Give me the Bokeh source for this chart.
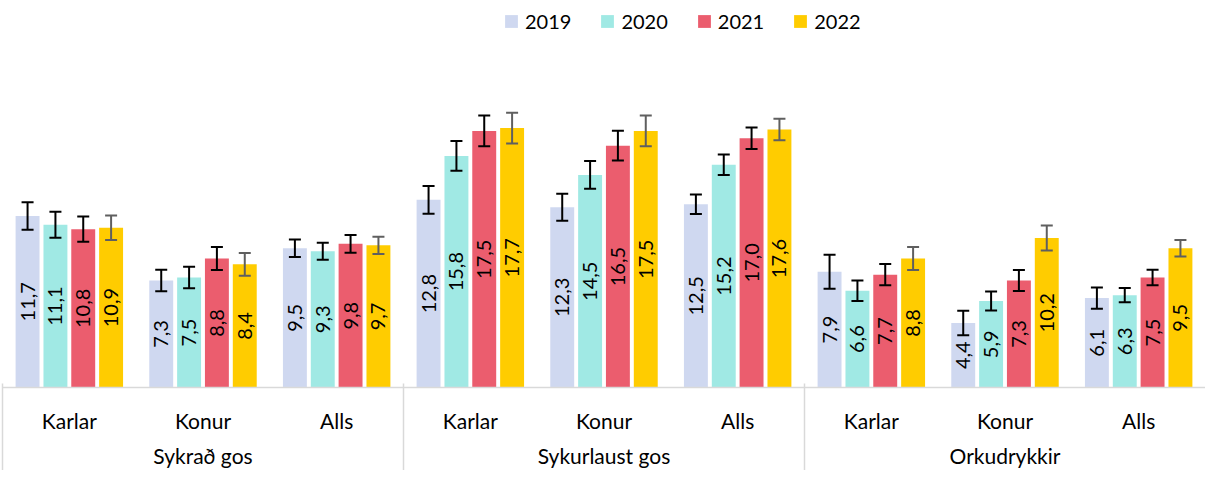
from math import pi
from bokeh.plotting import figure
from bokeh.models import (ColumnDataSource, Range1d, Whisker, TeeHead,
                          Legend, LegendItem, LinearAxis, FixedTicker)
from bokeh.transform import dodge
from bokeh.core.properties import value
from bokeh.embed import file_html
from bokeh.resources import INLINE

drinks = ["Sykrað gos", "Sykurlaust gos", "Orkudrykkir"]
groups = ["Karlar", "Konur", "Alls"]
years = ["2019", "2020", "2021", "2022"]

v2019 = [11.7, 7.3, 9.5, 12.8, 12.3, 12.5, 7.9, 4.4, 6.1]
v2020 = [11.1, 7.5, 9.3, 15.8, 14.5, 15.2, 6.6, 5.9, 6.3]
v2021 = [10.8, 8.8, 9.8, 17.5, 16.5, 17.0, 7.7, 7.3, 7.5]
v2022 = [10.9, 8.4, 9.7, 17.7, 17.5, 17.6, 8.8, 10.2, 9.5]

e2019 = [0.94, 0.73, 0.60, 0.95, 0.92, 0.66, 1.16, 0.84, 0.72]
e2020 = [0.89, 0.73, 0.58, 1.02, 0.95, 0.70, 0.70, 0.65, 0.48]
e2021 = [0.86, 0.79, 0.60, 1.05, 1.01, 0.73, 0.73, 0.72, 0.53]
e2022 = [0.84, 0.78, 0.59, 1.05, 1.05, 0.73, 0.78, 0.85, 0.57]

values = [v2019, v2020, v2021, v2022]
errors = [e2019, e2020, e2021, e2022]
colors = ["#CFD8F0", "#A0E9E4", "#EB5D6E", "#FFCC00"]
err_colors = ["#000000", "#000000", "#000000", "#5F5F5F"]
offsets = [-0.3125, -0.104, 0.104, 0.3125]
BAR_W = 0.179
FONT = "Lato"

# category slots: (drink, group) pairs, one unit wide each
factors = [(d, g) for d in drinks for g in groups]
n = len(factors)
slot = [i + 0.5 for i in range(n)]

p = figure(x_range=Range1d(0, n), y_range=(0, 26.4), width=1205, height=470,
           output_backend="svg", toolbar_location=None, y_axis_location=None,
           x_axis_location=None,
           min_border_left=2, min_border_right=0, min_border_top=0,
           min_border_bottom=0)
p.outline_line_color = None
p.xgrid.visible = False
p.ygrid.visible = False

items = []
for yr, vals, errs, col, ecol, off in zip(years, values, errors, colors, err_colors, offsets):
    src = ColumnDataSource(dict(
        x=slot,
        top=vals,
        mid=[v / 2 for v in vals],
        upper=[v + e for v, e in zip(vals, errs)],
        lower=[v - e for v, e in zip(vals, errs)],
        label=[f"{v:.1f}".replace(".", ",") for v in vals],
    ))
    xd = dodge("x", off)
    r = p.vbar(x=xd, top="top", width=BAR_W, source=src, fill_color=col, line_color=None)
    items.append(LegendItem(label=yr, renderers=[r]))
    p.text(x=xd, y="mid", text="label", source=src, angle=pi / 2,
           text_align="center", text_baseline="middle",
           text_font=value(FONT), text_font_size="20px", text_color="black")
    w = Whisker(source=src, base=dodge("x", off), upper="upper", lower="lower",
                dimension="height", line_color=ecol, line_width=2, level="annotation")
    w.upper_head = TeeHead(size=12, line_color=ecol, line_width=2)
    w.lower_head = TeeHead(size=12, line_color=ecol, line_width=2)
    p.add_layout(w)

legend = Legend(items=items, orientation="horizontal", location=(501, 354),
                border_line_color=None, background_fill_alpha=0,
                glyph_width=16, glyph_height=16, label_standoff=6, spacing=28,
                padding=4, margin=0, label_height=16,
                label_text_font=FONT, label_text_font_size="20px",
                label_text_color="black")
p.add_layout(legend)

# inner level axis: group labels
ax1 = LinearAxis(ticker=FixedTicker(ticks=slot, minor_ticks=[]),
                 major_label_overrides={t: g for t, (d, g) in zip(slot, factors)})
ax1.axis_line_color = "#D9D9D9"
ax1.axis_line_width = 1.5
ax1.major_tick_line_color = None
ax1.minor_tick_line_color = None
ax1.major_tick_out = 0
ax1.major_tick_in = 0
ax1.minor_tick_out = 0
ax1.minor_tick_in = 0
ax1.major_label_standoff = 20
ax1.major_label_text_font = FONT
ax1.major_label_text_font_size = "21px"
ax1.major_label_text_color = "black"
p.add_layout(ax1, "below")

# outer level axis: drink labels, with drink separators as minor ticks
grp_ticks = [i * len(groups) + len(groups) / 2 for i in range(len(drinks))]
sep_ticks = [float(i * len(groups)) for i in range(len(drinks))]
ax2 = LinearAxis(ticker=FixedTicker(ticks=grp_ticks, minor_ticks=sep_ticks),
                 major_label_overrides={t: d for t, d in zip(grp_ticks, drinks)})
ax2.axis_line_color = None
ax2.major_tick_line_color = None
ax2.major_tick_out = 0
ax2.major_tick_in = 0
ax2.minor_tick_line_color = "#D9D9D9"
ax2.minor_tick_line_width = 1.5
ax2.minor_tick_in = 52
ax2.minor_tick_out = 45
try:
    ax2.major_label_standoff = -38
except Exception:
    ax2.minor_tick_out = 0
    ax2.major_label_standoff = 7
ax2.major_label_text_font = FONT
ax2.major_label_text_font_size = "21px"
ax2.major_label_text_color = "black"
p.add_layout(ax2, "below")

open("out.html", "w").write(file_html(p, INLINE))
